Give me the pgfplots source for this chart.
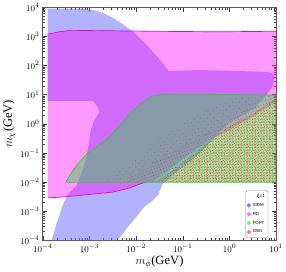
\documentclass[border=0pt]{standalone}
\usepackage{fontspec}
\setmainfont{Liberation Serif}
\newfontfamily\legfont{Liberation Sans}
\usepackage{pgfplots}
\pgfplotsset{compat=1.18}
\usetikzlibrary{patterns.meta}
\definecolor{sidm}{RGB}{102,102,255}
\definecolor{rd}{RGB}{255,0,255}
\definecolor{fopt}{RGB}{40,215,55}
\definecolor{foptline}{RGB}{60,200,60}
\definecolor{rdline}{RGB}{225,0,225}
\definecolor{gwred}{RGB}{220,35,35}
\definecolor{legsidm}{RGB}{128,128,240}
\definecolor{legrd}{RGB}{240,120,240}
\definecolor{legfopt}{RGB}{120,240,120}
\definecolor{leggw}{RGB}{240,130,130}
\begin{document}
\begin{tikzpicture}
\begin{axis}[
  scale only axis, width=241pt, height=241pt,
  xmin=-4, xmax=1, ymin=-4, ymax=4,
  xtick={-4,-3,-2,-1,0,1},
  xticklabels={$10^{-4}$,$10^{-3}$,$10^{-2}$,$10^{-1}$,$10^{0}$,$10^{1}$},
  ytick={-4,-3,-2,-1,0,1,2,3,4},
  yticklabels={$10^{-4}$,$10^{-3}$,$10^{-2}$,$10^{-1}$,$10^{0}$,$10^{1}$,$10^{2}$,$10^{3}$,$10^{4}$},
  minor xtick={-3.699,-3.523,-3.398,-3.301,-3.222,-3.155,-3.097,-3.046,
               -2.699,-2.523,-2.398,-2.301,-2.222,-2.155,-2.097,-2.046,
               -1.699,-1.523,-1.398,-1.301,-1.222,-1.155,-1.097,-1.046,
               -0.699,-0.523,-0.398,-0.301,-0.222,-0.155,-0.097,-0.046,
               0.301,0.477,0.602,0.699,0.778,0.845,0.903,0.954},
  minor ytick={-3.699,-3.523,-3.398,-3.301,-3.222,-3.155,-3.097,-3.046,
               -2.699,-2.523,-2.398,-2.301,-2.222,-2.155,-2.097,-2.046,
               -1.699,-1.523,-1.398,-1.301,-1.222,-1.155,-1.097,-1.046,
               -0.699,-0.523,-0.398,-0.301,-0.222,-0.155,-0.097,-0.046,
               0.301,0.477,0.602,0.699,0.778,0.845,0.903,0.954,
               1.301,1.477,1.602,1.699,1.778,1.845,1.903,1.954,
               2.301,2.477,2.602,2.699,2.778,2.845,2.903,2.954,
               3.301,3.477,3.602,3.699,3.778,3.845,3.903,3.954},
  tick align=inside,
  major tick length=4.5pt, minor tick length=2.5pt,
  every tick/.style={black!75, line width=0.6pt},
  axis line style={black!65, line width=1.1pt},
  tick label style={font=\fontsize{9.5}{10}\selectfont},
  xlabel={$m_\phi$(GeV)}, ylabel={$m_\chi$(GeV)},
  label style={font=\fontsize{13}{14}\selectfont},
  xlabel style={yshift=3pt},
  ylabel style={yshift=-2pt},
  legend style={at={(rel axis cs:0.966,0.012)}, anchor=south east,
    draw=black!50, rounded corners=1.5pt, line width=0.4pt,
    font=\legfont\fontsize{4.5}{5}\selectfont, inner sep=1.2pt,
    row sep=0.6pt},
  legend cell align=left,
]
% SIDM
\addplot[fill=sidm, fill opacity=0.5, draw=none, forget plot] coordinates {
(-3.896,3.957) (-3.232,3.957) (-2.921,3.907) (-2.714,3.807) (-2.506,3.641)
(-2.278,3.409) (-2.050,3.143) (-1.822,2.777) (-1.531,2.279) (-1.303,1.814)
(-0.639,1.847) (0.191,1.814) (0.813,1.781) (0.959,1.714) (0.938,1.316)
(0.772,0.950) (0.523,0.518) (-0.017,0.020) (-0.328,-0.478) (-0.639,-1.010)
(-1.427,-2.040)
(-1.531,-2.439) (-1.676,-2.671) (-1.822,-2.837) (-2.091,-3.369) (-2.402,-4.0)
(-3.813,-4.0) (-3.710,-3.435) (-3.585,-2.837) (-3.481,-2.439) (-3.274,-2.106)
(-3.170,-1.674) (-3.087,-1.276) (-3.025,-0.777) (-2.983,-0.279) (-2.900,0.120)
(-2.797,0.385) (-2.817,0.551) (-2.921,0.784) (-3.896,0.784)
} -- cycle;
% RD
\addplot[fill=rd, fill opacity=0.4, draw=none, forget plot] coordinates {
(-3.896,3.076) (-3.647,3.159) (-3.398,3.209) (-1.676,3.176) (-0.224,3.159)
(1.0,3.176) (1.0,0.784) (0.523,0.286) (-0.017,-0.213) (-0.328,-0.478)
(-0.639,-0.777) (-1.676,-2.007) (-1.884,-2.040) (-2.154,-2.206) (-2.506,-2.339)
(-3.544,-2.505) (-3.896,-2.538)
} -- cycle;
% RD border lines (visible parts)
\addplot[draw=rdline, line width=0.7pt, forget plot] coordinates {
(-3.896,3.076) (-3.647,3.159) (-3.398,3.209) (-1.676,3.176) (-0.224,3.159) (1.0,3.176)
};
\addplot[draw=rdline, line width=0.7pt, forget plot] coordinates {
(-3.896,-2.538) (-3.544,-2.505) (-2.506,-2.339) (-2.154,-2.206) (-1.884,-2.040) (-1.800,-2.0)
};
% FOPT
\addplot[fill=fopt, fill opacity=0.42, draw=none, forget plot] coordinates {
(-3.508,-2.0) (-3.336,-1.542) (-3.066,-1.043) (-2.921,-0.877) (-2.568,-0.445)
(-2.154,0.319) (-1.884,0.718) (-1.676,0.950) (-1.469,1.0) (-1.261,1.017)
(-0.639,1.017) (0.398,1.0) (1.0,0.983) (1.0,-2.0)
} -- cycle;
% GWs dense
\addplot[pattern={Dots[distance=1.6pt, radius=0.36pt]}, pattern color=gwred, draw=none, forget plot] coordinates {
(-1.676,-2.0) (-1.469,-1.900) (-0.639,-0.877) (-0.017,-0.080) (0.523,0.352)
(1.0,0.884) (1.0,-2.0)
} -- cycle;
\addplot[pattern={Dots[distance=2.1pt, radius=0.36pt, angle=33]}, pattern color=gwred, draw=none, forget plot] coordinates {
(-1.676,-2.0) (-1.469,-1.900) (-0.639,-0.877) (-0.017,-0.080) (0.523,0.352)
(1.0,0.884) (1.0,-2.0)
} -- cycle;
% GWs medium
\addplot[pattern={Dots[distance=3.0pt, radius=0.36pt, angle=20]}, pattern color=gwred, draw=none, forget plot] coordinates {
(-2.300,-2.0) (-1.700,-1.400) (-1.000,-0.750) (-0.300,-0.200) (0.300,0.450)
(1.0,0.960) (1.0,0.884) (0.523,0.352) (-0.017,-0.080) (-0.639,-0.877)
(-1.469,-1.900) (-1.676,-2.0)
} -- cycle;
% GWs sparse
\addplot[pattern={Dots[distance=4.8pt, radius=0.36pt, angle=50]}, pattern color=gwred, draw=none, forget plot] coordinates {
(-2.714,-2.0) (-2.050,-1.276) (-1.469,-0.445) (-0.639,0.319) (0.191,0.900)
(1.0,0.983) (1.0,0.960) (0.300,0.450) (-0.300,-0.200) (-1.000,-0.750)
(-1.700,-1.400) (-2.300,-2.0)
} -- cycle;
% FOPT border
\addplot[draw=foptline, line width=0.8pt, forget plot] coordinates {
(-3.508,-2.0) (-3.336,-1.542) (-3.066,-1.043) (-2.921,-0.877) (-2.568,-0.445)
(-2.154,0.319) (-1.884,0.718) (-1.676,0.950) (-1.469,1.0) (-1.261,1.017)
(-0.639,1.017) (0.398,1.0) (1.0,0.983) (1.0,-2.0)
} -- cycle;
% legend
\addlegendimage{empty legend}
\addlegendentry{\hspace{4pt}$\xi$=1}
\addlegendimage{legend image code/.code={\fill[legsidm] (0pt,-1.8pt) rectangle (3.6pt,1.8pt);}}
\addlegendentry{SIDM}
\addlegendimage{legend image code/.code={\fill[legrd] (0pt,-1.8pt) rectangle (3.6pt,1.8pt);}}
\addlegendentry{RD}
\addlegendimage{legend image code/.code={\fill[legfopt] (0pt,-1.8pt) rectangle (3.6pt,1.8pt);}}
\addlegendentry{FOPT}
\addlegendimage{legend image code/.code={\fill[leggw] (0pt,-1.8pt) rectangle (3.6pt,1.8pt);}}
\addlegendentry{GWs}
\end{axis}
\end{tikzpicture}
\end{document}
